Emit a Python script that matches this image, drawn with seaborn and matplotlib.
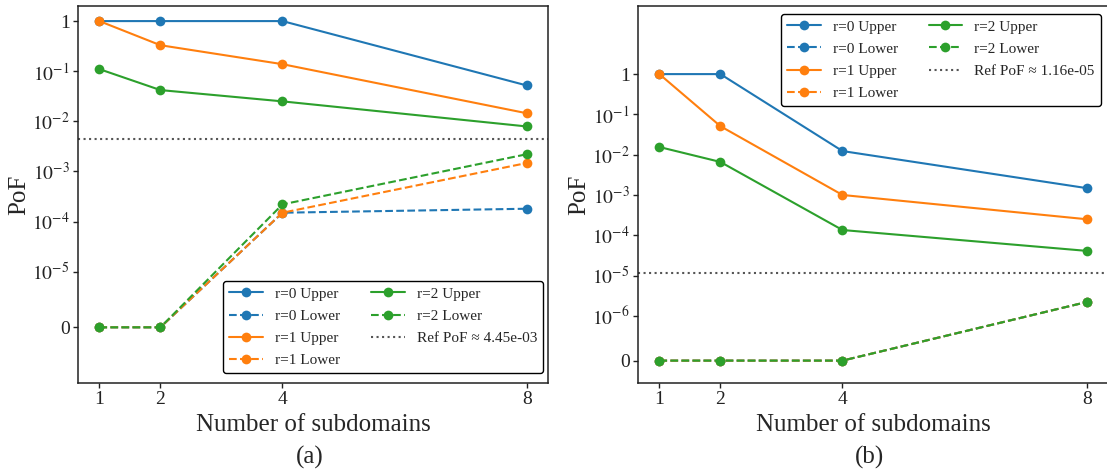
import numpy as np
import pandas as pd
import matplotlib
matplotlib.use("Agg")
import matplotlib.pyplot as plt
from matplotlib.ticker import NullLocator
import seaborn as sns

# Data
subdomains = [1, 2, 4, 8]

# panel (a)
a_r0_upper = [1.0, 1.0, 1.0, 0.052]
a_r0_lower = [0.0, 0.0, 1.5e-4, 1.8e-4]
a_r1_upper = [1.0, 0.33, 0.138, 0.0145]
a_r1_lower = [0.0, 0.0, 1.5e-4, 1.47e-3]
a_r2_upper = [0.11, 0.042, 0.025, 0.0079]
a_r2_lower = [0.0, 0.0, 2.2e-4, 2.2e-3]
a_ref = 4.45e-3

# panel (b)
b_r0_upper = [1.0, 1.0, 0.0123, 1.48e-3]
b_r0_lower = [0.0, 0.0, 0.0, 2.2e-6]
b_r1_upper = [1.0, 0.051, 1.0e-3, 2.5e-4]
b_r1_lower = [0.0, 0.0, 0.0, 2.2e-6]
b_r2_upper = [0.0155, 6.6e-3, 1.35e-4, 4.1e-5]
b_r2_lower = [0.0, 0.0, 0.0, 2.2e-6]
b_ref = 1.16e-5

sns.set_theme(style="ticks")
plt.rcParams["font.family"] = ["Liberation Serif", "DejaVu Serif"]
plt.rcParams["mathtext.fontset"] = "stix"
plt.rcParams["axes.edgecolor"] = "#222222"
plt.rcParams["axes.linewidth"] = 1.1
plt.rcParams["xtick.direction"] = "out"
plt.rcParams["ytick.direction"] = "out"

colors = {0: "#1f77b4", 1: "#ff7f0e", 2: "#2ca02c"}


def draw_panel(ax, series, ref, linthresh, ylim, decades):
    for r, upper, lower in series:
        for vals, kind, ls in [(upper, "Upper", "-"), (lower, "Lower", "--")]:
            df = pd.DataFrame({"n": subdomains, "pof": vals})
            sns.lineplot(data=df, x="n", y="pof", ax=ax, color=colors[r],
                         linestyle=ls, marker="o", markersize=7,
                         markeredgecolor=colors[r], markeredgewidth=0,
                         linewidth=1.5, label=f"r={r} {kind}")
    ax.axhline(ref, color="#555555", linestyle=":", linewidth=1.5,
               label=f"Ref PoF \u2248 {ref:.2e}")
    ax.set_yscale("symlog", linthresh=linthresh, linscale=1)
    ticks = [0] + [10.0 ** (-k) for k in range(decades, 0, -1)] + [1]
    labels = ["0"] + [f"$10^{{-{k}}}$" for k in range(decades, 0, -1)] + ["1"]
    ax.set_yticks(ticks)
    ax.set_yticklabels(labels)
    ax.yaxis.set_minor_locator(NullLocator())
    ax.set_ylim(*ylim)
    ax.set_xticks(subdomains)
    ax.set_xlim(0.65, 8.35)
    ax.tick_params(axis="both", labelsize=14, length=3.5, width=1.0,
                   pad=2.5, colors="#222222")
    ax.set_xlabel("Number of subdomains", fontsize=18, labelpad=4)
    ax.set_ylabel("PoF", fontsize=18, labelpad=1)


fig = plt.figure(figsize=(11.07, 4.72), dpi=100)
ax_a = fig.add_axes([78 / 1107, 89 / 472, 470 / 1107, 377 / 472])
ax_b = fig.add_axes([638 / 1107, 89 / 472, 470 / 1107, 377 / 472])

draw_panel(ax_a, [(0, a_r0_upper, a_r0_lower), (1, a_r1_upper, a_r1_lower),
                  (2, a_r2_upper, a_r2_lower)], a_ref, 1e-5, (-1e-5, 2.0), 5)
draw_panel(ax_b, [(0, b_r0_upper, b_r0_lower), (1, b_r1_upper, b_r1_lower),
                  (2, b_r2_upper, b_r2_lower)], b_ref, 1e-6, (-5e-7, 49.0), 6)

legend_spots = [(ax_a, "lower right", (0.99, 0.026)),
                (ax_b, "upper right", (0.985, 0.979))]
for ax, loc, anchor in legend_spots:
    leg = ax.legend(loc=loc, bbox_to_anchor=anchor, borderaxespad=0,
                    ncol=2, fontsize=11, frameon=True, fancybox=True,
                    framealpha=1.0, edgecolor="black", columnspacing=2.0,
                    handlelength=2.2, labelspacing=0.55)
    leg.get_frame().set_linewidth(1.0)

fig.text((78 + 232) / 1107, 0.03, "(a)", ha="center", va="center", fontsize=18)
fig.text((638 + 232) / 1107, 0.03, "(b)", ha="center", va="center", fontsize=18)

fig.savefig("out.png", dpi=100)
